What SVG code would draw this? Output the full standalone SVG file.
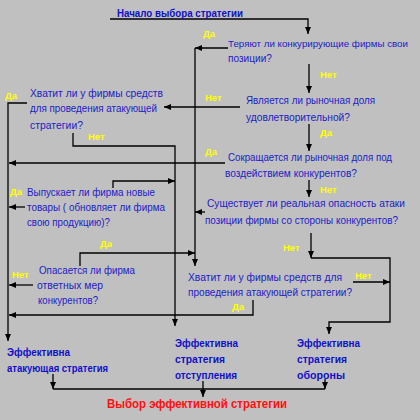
<svg xmlns="http://www.w3.org/2000/svg" width="420" height="420" viewBox="0 0 420 420">
<style>
.q{font-family:"Liberation Sans",Arial,sans-serif;font-size:11px;fill:#1c1cc8}
.t{font-family:"Liberation Sans",Arial,sans-serif;font-size:11.5px;font-weight:bold;fill:#1010c8}
.r{font-family:"Liberation Sans",Arial,sans-serif;font-size:13px;font-weight:bold;fill:#ff1010}
.y{font-family:"Liberation Sans",Arial,sans-serif;font-size:9.5px;font-weight:bold;fill:#ffff00}
.c path{fill:none;stroke:#000;stroke-width:1.3}
</style>
<defs>
<marker id="a" markerUnits="userSpaceOnUse" markerWidth="8" markerHeight="8" refX="7" refY="4" orient="auto">
<path d="M0,1 L7,4 L0,7 Z" fill="#000"/>
</marker>
</defs>
<rect width="420" height="420" fill="#c0c0c0"/>
<g class="c">
<path d="M110,19 H308 V34" marker-end="url(#a)"/>
<path d="M228,48 H195" marker-end="url(#a)"/>
<path d="M195,48 V266" marker-end="url(#a)"/>
<path d="M309,64 V93" marker-end="url(#a)"/>
<path d="M240,107 H164" marker-end="url(#a)"/>
<path d="M309,124 V151" marker-end="url(#a)"/>
<path d="M27,103 H8 V341" marker-end="url(#a)"/>
<path d="M73,133 V146 H175 V326" marker-end="url(#a)"/>
<path d="M225,163 H9" marker-end="url(#a)"/>
<path d="M309,180 V197" marker-end="url(#a)"/>
<path d="M205,212 H195" marker-end="url(#a)"/>
<path d="M113,188 V181 H175" marker-end="url(#a)"/>
<path d="M25,207 H9" marker-end="url(#a)"/>
<path d="M311,233 V258" marker-end="url(#a)"/>
<path d="M311,258 H390 V322 H329 V334" marker-end="url(#a)"/>
<path d="M353,282 H390" marker-end="url(#a)"/>
<path d="M80,266 V253 H195" marker-end="url(#a)"/>
<path d="M33,285 H9" marker-end="url(#a)"/>
<path d="M253,300 V315 H9" marker-end="url(#a)"/>
<path d="M53,374 V389" marker-end="url(#a)"/>
<path d="M53,389 H325"/>
<path d="M325,379 V389" marker-end="url(#a)"/>
<path d="M203,381 V397" marker-end="url(#a)"/>
</g>
<g id="start"><text class="t" x="117" y="17" textLength="126" lengthAdjust="spacingAndGlyphs">Начало выбора стратегии</text></g>
<g id="n1">
<text class="q" x="228" y="47" style="font-size:9.8px" textLength="180" lengthAdjust="spacingAndGlyphs">Теряют ли конкурирующие фирмы свои</text>
<text class="q" x="228" y="62" textLength="44" lengthAdjust="spacingAndGlyphs">позиции?</text>
</g>
<g id="n2">
<text class="q" x="246" y="104" textLength="129" lengthAdjust="spacingAndGlyphs">Является ли рыночная доля</text>
<text class="q" x="246" y="121" textLength="104" lengthAdjust="spacingAndGlyphs">удовлетворительной?</text>
</g>
<g id="n3">
<text class="q" x="30" y="97" textLength="133" lengthAdjust="spacingAndGlyphs">Хватит ли у фирмы средств</text>
<text class="q" x="30" y="112" textLength="127" lengthAdjust="spacingAndGlyphs">для проведения атакующей</text>
<text class="q" x="30" y="129" textLength="53" lengthAdjust="spacingAndGlyphs">стратегии?</text>
</g>
<g id="n4">
<text class="q" x="228" y="161" textLength="164" lengthAdjust="spacingAndGlyphs">Сокращается ли рыночная доля под</text>
<text class="q" x="225" y="177" textLength="132" lengthAdjust="spacingAndGlyphs">воздействием конкурентов?</text>
</g>
<g id="n5">
<text class="q" x="207" y="207" textLength="198" lengthAdjust="spacingAndGlyphs">Существует  ли реальная опасность атаки</text>
<text class="q" x="205" y="224" textLength="193" lengthAdjust="spacingAndGlyphs">позиции фирмы со стороны конкурентов?</text>
</g>
<g id="n6">
<text class="q" x="27" y="196" textLength="128" lengthAdjust="spacingAndGlyphs">Выпускает ли фирма новые</text>
<text class="q" x="27" y="211" textLength="138" lengthAdjust="spacingAndGlyphs">товары ( обновляет ли фирма</text>
<text class="q" x="27" y="226" textLength="83" lengthAdjust="spacingAndGlyphs">свою продукцию)?</text>
</g>
<g id="n7">
<text class="q" x="188" y="281" textLength="154" lengthAdjust="spacingAndGlyphs">Хватит ли у фирмы средств для</text>
<text class="q" x="188" y="296" textLength="164" lengthAdjust="spacingAndGlyphs">проведения атакующей стратегии?</text>
</g>
<g id="n8">
<text class="q" x="39" y="274" textLength="96" lengthAdjust="spacingAndGlyphs">Опасается ли фирма</text>
<text class="q" x="37" y="289" textLength="66" lengthAdjust="spacingAndGlyphs">ответных мер</text>
<text class="q" x="38" y="304" textLength="60" lengthAdjust="spacingAndGlyphs">конкурентов?</text>
</g>
<g id="attack">
<text class="t" x="7" y="356" textLength="63" lengthAdjust="spacingAndGlyphs">Эффективна</text>
<text class="t" x="7" y="372" textLength="101" lengthAdjust="spacingAndGlyphs">атакующая стратегия</text>
</g>
<g id="retreat">
<text class="t" x="175" y="347" textLength="63" lengthAdjust="spacingAndGlyphs">Эффективна</text>
<text class="t" x="175" y="363" textLength="50" lengthAdjust="spacingAndGlyphs">стратегия</text>
<text class="t" x="175" y="379" textLength="62" lengthAdjust="spacingAndGlyphs">отступления</text>
</g>
<g id="defense">
<text class="t" x="297" y="347" textLength="63" lengthAdjust="spacingAndGlyphs">Эффективна</text>
<text class="t" x="297" y="363" textLength="50" lengthAdjust="spacingAndGlyphs">стратегия</text>
<text class="t" x="297" y="379" textLength="48" lengthAdjust="spacingAndGlyphs">обороны</text>
</g>
<g id="result"><text class="r" x="107" y="408" textLength="180" lengthAdjust="spacingAndGlyphs">Выбор эффективной стратегии</text></g>
<g id="labels">
<text class="y" x="203" y="37">Да</text>
<text class="y" x="320" y="78">Нет</text>
<text class="y" x="205" y="101">Нет</text>
<text class="y" x="320" y="136">Да</text>
<text class="y" x="5" y="99">Да</text>
<text class="y" x="88" y="140">Нет</text>
<text class="y" x="205" y="155">Да</text>
<text class="y" x="320" y="193">Нет</text>
<text class="y" x="10" y="195">Да</text>
<text class="y" x="100" y="247">Да</text>
<text class="y" x="283" y="251">Нет</text>
<text class="y" x="12" y="278">Нет</text>
<text class="y" x="355" y="279">Нет</text>
<text class="y" x="232" y="310">Да</text>
</g>
</svg>
